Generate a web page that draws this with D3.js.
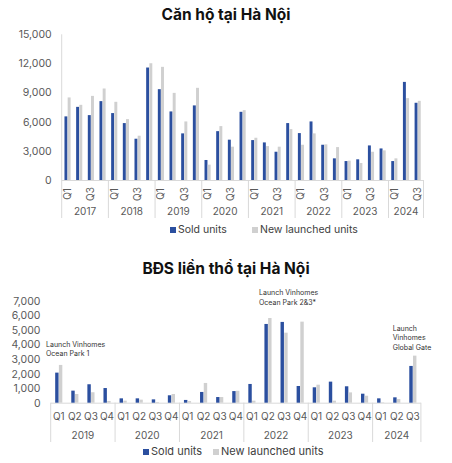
<!DOCTYPE html>
<html><head><meta charset="utf-8">
<script src="https://cdn.jsdelivr.net/npm/d3@7"></script>
<style>
html,body{margin:0;padding:0;background:#fff;}
svg{display:block;font-family:Inter,"Noto Sans",sans-serif;}
</style></head>
<body><svg id="c" width="452" height="463"></svg>
<script>
// ---------- Data: chart 1 (Căn hộ) ----------
const aptYears = ["2017","2018","2019","2020","2021","2022","2023","2024"];
const aptQuarters = ["Q1","Q2","Q3","Q4"];
const aptSold = [6550,7530,6680,8120, 6890,5860,4250,11580, 9350,7060,4800,7680, 2060,5030,4150,7020, 4110,3870,2910,5860, 4830,6030,3630,2230, 1950,2130,3560,3250, 1950,10100,7950];
const aptLaunched = [8500,7740,8660,9420, 8050,6270,4560,12020, 11650,8970,6030,9490, 1580,5550,3430,7190, 4350,3490,3430,5240, 3630,4800,3670,3390, 1990,1750,2910,3050, 2230,8430,8150];
const aptTicks = [0,3000,6000,9000,12000,15000];

// ---------- Data: chart 2 (BĐS liền thổ) ----------
const lndYears = ["2019","2020","2021","2022","2023","2024"];
const lndSold = [2070,830,1270,1010, 300,300,230,510, 190,740,390,800, 1290,5420,5560,1150, 1060,1450,1130,620, 300,370,2530];
const lndLaunched = [2600,600,720,120, 140,210,50,600, 110,1360,390,820, 140,5830,4820,5580, 1240,140,710,480, 30,250,3240];
const lndTicks = [0,1000,2000,3000,4000,5000,6000,7000];
const lndNotes = [
  {q:"2019-Q1", lines:["Launch Vinhomes","Ocean Park 1"]},
  {q:"2022-Q2", lines:["Launch Vinhomes","Ocean Park 2&3*"]},
  {q:"2024-Q3", lines:["Launch","Vinhomes","Global Gate"]}
];

const seriesNames = ["Sold units","New launched units"];
const colors = {"Sold units":"#2b4f9f","New launched units":"#d0d0d0"};
const txt = "#595959", lineC = "#d9d9d9";
const fmt = d3.format(",");

const svg = d3.select("#c");

function keysFor(years, n){
  const k=[]; years.forEach(y=>aptQuarters.forEach(q=>k.push(y+"-"+q)));
  return k.slice(0,n);
}

function drawChart(o){
  const g = svg.append("g");
  const keys = keysFor(o.years, o.sold.length);
  const x0 = d3.scaleBand().domain(keys).range([o.x0,o.x1]).paddingInner(o.padIn).paddingOuter(o.padIn/2);
  const x1 = d3.scaleBand().domain(seriesNames).range([0,x0.bandwidth()]).padding(0.08);
  const y = d3.scaleLinear().domain([0,o.max]).range([o.yb,o.yt]);
  const step = x0.step();

  // title
  g.append("text").attr("x",226).attr("y",o.titleY).attr("text-anchor","middle")
   .attr("font-size",o.titleSize).attr("font-weight",700).attr("fill","#111").text(o.title);

  // y axis labels
  const ya = d3.axisLeft(y).tickValues(o.ticks).tickFormat(fmt).tickSize(0).tickPadding(0);
  const yg = g.append("g").attr("transform",`translate(${o.ylabX},0)`).call(ya);
  yg.select(".domain").remove();
  yg.selectAll("text").attr("fill",txt).attr("font-size",o.yFont).attr("font-family","Inter,sans-serif");

  if(o.yLine){
    g.append("line").attr("x1",o.x0).attr("x2",o.x0).attr("y1",o.yt).attr("y2",o.yb).attr("stroke",lineC);
  }
  // baseline
  g.append("line").attr("x1",o.x0).attr("x2",o.x1).attr("y1",o.yb+0.5).attr("y2",o.yb+0.5).attr("stroke",lineC);

  // bars
  const data = keys.map((k,i)=>({k, v:{"Sold units":o.sold[i],"New launched units":o.launched[i]}}));
  const grp = g.selectAll("g.grp").data(data).join("g").attr("transform",d=>`translate(${x0(d.k)},0)`);
  grp.selectAll("rect").data(d=>seriesNames.map(s=>({s,v:d.v[s]}))).join("rect")
    .attr("x",d=>x1(d.s)).attr("width",x1.bandwidth())
    .attr("y",d=>y(d.v)).attr("height",d=>o.yb-y(d.v)).attr("fill",d=>colors[d.s]);

  // quarter labels
  keys.forEach((k,i)=>{
    const q = k.split("-")[1];
    const cx = o.x0 + step*(i+0.5);
    if(o.rotate){
      if(q==="Q1"||q==="Q3"){
        g.append("text").attr("transform",`translate(${cx+3.5},${o.qY}) rotate(-90)`)
          .attr("text-anchor","middle").attr("font-size",o.qFont).attr("fill",txt).text(q);
      }
    } else {
      g.append("text").attr("x",cx).attr("y",o.qY).attr("text-anchor","middle")
        .attr("font-size",o.qFont).attr("fill",txt).text(q);
    }
  });
  // year labels and separators
  o.years.forEach((yr,j)=>{
    const start = o.x0 + step*4*j;
    const n = Math.min(4, keys.length-4*j);
    const end = start + step*n;
    g.append("text").attr("x",(start+end)/2).attr("y",o.yrY).attr("text-anchor","middle")
      .attr("font-size",o.qFont).attr("fill",txt).text(yr);
    g.append("line").attr("x1",start).attr("x2",start).attr("y1",o.yb).attr("y2",o.sepB).attr("stroke",lineC);
    if(j===o.years.length-1)
      g.append("line").attr("x1",end).attr("x2",end).attr("y1",o.yb).attr("y2",o.sepB).attr("stroke",lineC);
  });

  // legend
  seriesNames.forEach((s,i)=>{
    const lx = o.legX[i];
    g.append("rect").attr("x",lx).attr("y",o.legY-6).attr("width",6).attr("height",6).attr("fill",colors[s]);
    g.append("text").attr("x",lx+8).attr("y",o.legY).attr("font-size",o.legFont).attr("fill","#404040").text(s);
  });

  return {x0,y,step};
}

drawChart({title:"Căn hộ tại Hà Nội", titleY:20, titleSize:15.5, years:aptYears, sold:aptSold, launched:aptLaunched,
  ticks:aptTicks, max:15000, x0:61.7, x1:423.5, yb:180, yt:34.3, padIn:0.43, ylabX:51.7, yFont:10.5, yLine:true,
  rotate:true, qY:194, qFont:10, yrY:215, sepB:218, legX:[170,252], legY:233, legFont:10.5});

const c2 = drawChart({title:"BĐS liền thổ tại Hà Nội", titleY:274, titleSize:15.5, years:lndYears, sold:lndSold, launched:lndLaunched,
  ticks:lndTicks, max:7000, x0:50.7, x1:420.9, yb:402.7, yt:301, padIn:0.52, ylabX:40.5, yFont:10.5, yLine:false,
  rotate:false, qY:420, qFont:10, yrY:439, sepB:442, legX:[143,213], legY:455, legFont:11});

// annotations
const annX = {"2019-Q1":46, "2022-Q2":259, "2024-Q3":392.7};
const annY = {"2019-Q1":346.5, "2022-Q2":295, "2024-Q3":330.5};
lndNotes.forEach(n=>{
  const t = svg.append("text").attr("font-size",7).attr("fill","#333");
  n.lines.forEach((l,i)=>{
    t.append("tspan").attr("x",annX[n.q]).attr("y",annY[n.q]+i*9.8).text(l);
  });
});
</script></body></html>
